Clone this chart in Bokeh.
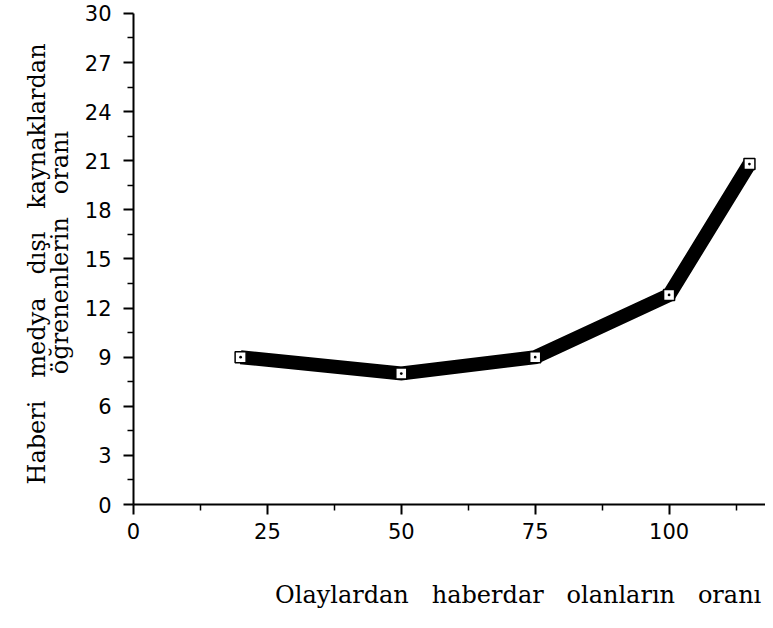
from bokeh.plotting import figure
from bokeh.models import FixedTicker, ColumnDataSource, Range1d, Title
from bokeh.embed import file_html
from bokeh.resources import INLINE

# Data
x_values = [20, 50, 75, 100, 115]
y_values = [9.0, 8.0, 9.0, 12.8, 20.8]
x_ticks = [0, 25, 50, 75, 100]
x_minor = [12.5, 37.5, 62.5, 87.5, 112.5]
y_ticks = [0, 3, 6, 9, 12, 15, 18, 21, 24, 27, 30]
y_minor = [1.5, 4.5, 7.5, 10.5, 13.5, 16.5, 19.5, 22.5, 25.5, 28.5]
gap = "\u00a0\u00a0\u00a0"
x_title = gap.join(["Olaylardan", "haberdar", "olanların", "oranı"])
y_title_1 = gap.join(["Haberi", "medya", "dışı", "kaynaklardan"])
y_title_2 = gap.join(["öğrenenlerin", "oranı"])

src = ColumnDataSource(dict(x=x_values, y=y_values))

p = figure(width=765, height=620, output_backend="svg", toolbar_location=None,
           x_range=Range1d(0, 118), y_range=Range1d(0, 30.79),
           min_border_left=133, min_border_right=0, min_border_top=0,
           min_border_bottom=116)
p.outline_line_color = None
p.xgrid.visible = False
p.ygrid.visible = False

p.line("x", "y", source=src, line_width=14, line_color="black", line_join="miter")
p.scatter("x", "y", source=src, marker="square_dot", size=11, fill_color="white",
          line_color="black", line_width=1.5)

for ax in (p.xaxis[0], p.yaxis[0]):
    ax.axis_line_width = 2
    ax.axis_line_color = "black"
    ax.major_tick_line_width = 2
    ax.minor_tick_line_width = 1.5
    ax.major_tick_out = 10
    ax.major_tick_in = 0
    ax.minor_tick_out = 6
    ax.minor_tick_in = 0
    ax.major_label_text_font = "DejaVu Sans"
    ax.major_label_text_font_size = "21px"
    ax.major_label_text_color = "black"
    ax.axis_label_text_font = "DejaVu Serif"
    ax.axis_label_text_font_size = "24px"
    ax.axis_label_text_font_style = "normal"
    ax.axis_label_text_color = "black"

p.xaxis.ticker = FixedTicker(ticks=x_ticks, minor_ticks=x_minor)
p.yaxis.ticker = FixedTicker(ticks=y_ticks, minor_ticks=y_minor)
p.yaxis.bounds = (0, 30)
p.xaxis.major_label_standoff = 8
p.yaxis.major_label_standoff = 12

# x title: pushed toward the right end of the axis with leading spaces
p.xaxis.axis_label = "\u00a0" * 18 + x_title
p.xaxis.axis_label_standoff = 39

# y title: second line as the axis label, first line as an outer title
p.yaxis.axis_label = y_title_2
p.yaxis.axis_label_standoff = 8
p.add_layout(Title(text=y_title_1 + "\u00a0" * 3, align="center", standoff=-16,
                   text_font="DejaVu Serif", text_font_size="24px",
                   text_font_style="normal", text_color="black"), "left")

open("out.html", "w").write(file_html(p, INLINE))
